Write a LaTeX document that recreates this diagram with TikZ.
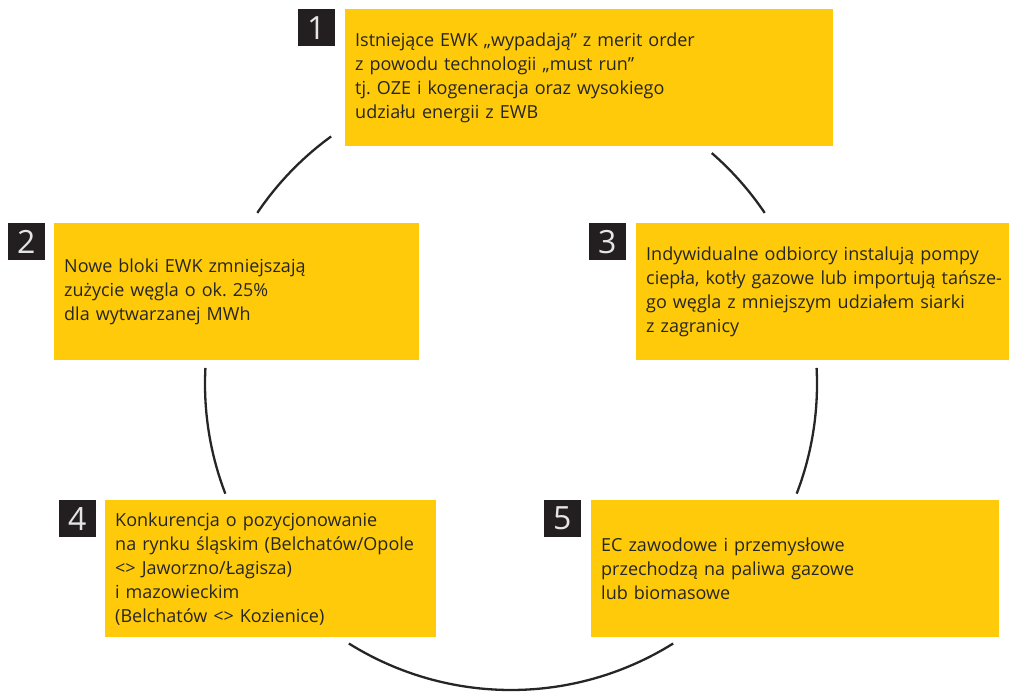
\documentclass[tikz,border=0pt]{standalone}
\usepackage{fontspec}
\setmainfont{Open Sans}
\usetikzlibrary{positioning}
\definecolor{boxyellow}{HTML}{FECA0A}
\definecolor{numdark}{HTML}{231F20}
\tikzstyle{infobox} = [rectangle, anchor=north west, minimum height=137pt, inner xsep=10pt, align=left, fill=boxyellow, font=\fontsize{18}{24}\selectfont, text=black!85]
\tikzstyle{numbox} = [rectangle, minimum size=37pt, inner sep=0pt, fill=numdark, text=white!90!black, font=\fontsize{32}{32}\selectfont]
\tikzstyle{ring} = [line width=2.3pt, black!85]

\begin{document}
\begin{tikzpicture}[x=1pt, y=1pt]
	\useasboundingbox (0,0) rectangle (1009,691);

	\coordinate (c) at (511,307);

	\node (b1) [infobox, text width=468pt] at (345,682) {Istniejące EWK „wypadają” z merit order\\z powodu technologii „must run”\\tj.\ OZE i kogeneracja oraz wysokiego\\udziału energii z EWB};
	\node (b2) [infobox, text width=345pt] at (54,468) {Nowe bloki EWK zmniejszają\\zużycie węgla o ok.\ 25\%\\dla wytwarzanej MWh};
	\node (b3) [infobox, text width=375pt] at (636,468) {Indywidualne odbiorcy instalują pompy\\ciepła, kotły gazowe lub importują tańsze-\\go węgla z mniejszym udziałem siarki\\z zagranicy};
	\node (b4) [infobox, text width=311pt] at (105,191) {Konkurencja o pozycjonowanie\\na rynku śląskim (Belchatów/Opole\\<> Jaworzno/Łagisza)\\i mazowieckim\\(Belchatów <> Kozienice)};
	\node (b5) [infobox, text width=388pt] at (591,191) {EC zawodowe i przemysłowe\\przechodzą na paliwa gazowe\\lub biomasowe};

	\node (n1) [numbox, left=10pt of b1.north west, anchor=north east] {1};
	\node (n2) [numbox, left=9pt of b2.north west, anchor=north east] {2};
	\node (n3) [numbox, left=10pt of b3.north west, anchor=north east] {3};
	\node (n4) [numbox, left=9pt of b4.north west, anchor=north east] {4};
	\node (n5) [numbox, left=10pt of b5.north west, anchor=north east] {5};

	% circle pieces between the boxes
	\draw [ring] ([shift={(126:306)}]c) arc[start angle=126, end angle=146, radius=306];
	\draw [ring] ([shift={(34:306)}]c) arc[start angle=34, end angle=49, radius=306];
	\draw [ring] ([shift={(177:306)}]c) arc[start angle=177, end angle=201, radius=306];
	\draw [ring] ([shift={(-21:306)}]c) arc[start angle=-21, end angle=3, radius=306];
	\draw [ring] ([shift={(238:306)}]c) arc[start angle=238, end angle=302, radius=306];
\end{tikzpicture}
\end{document}
